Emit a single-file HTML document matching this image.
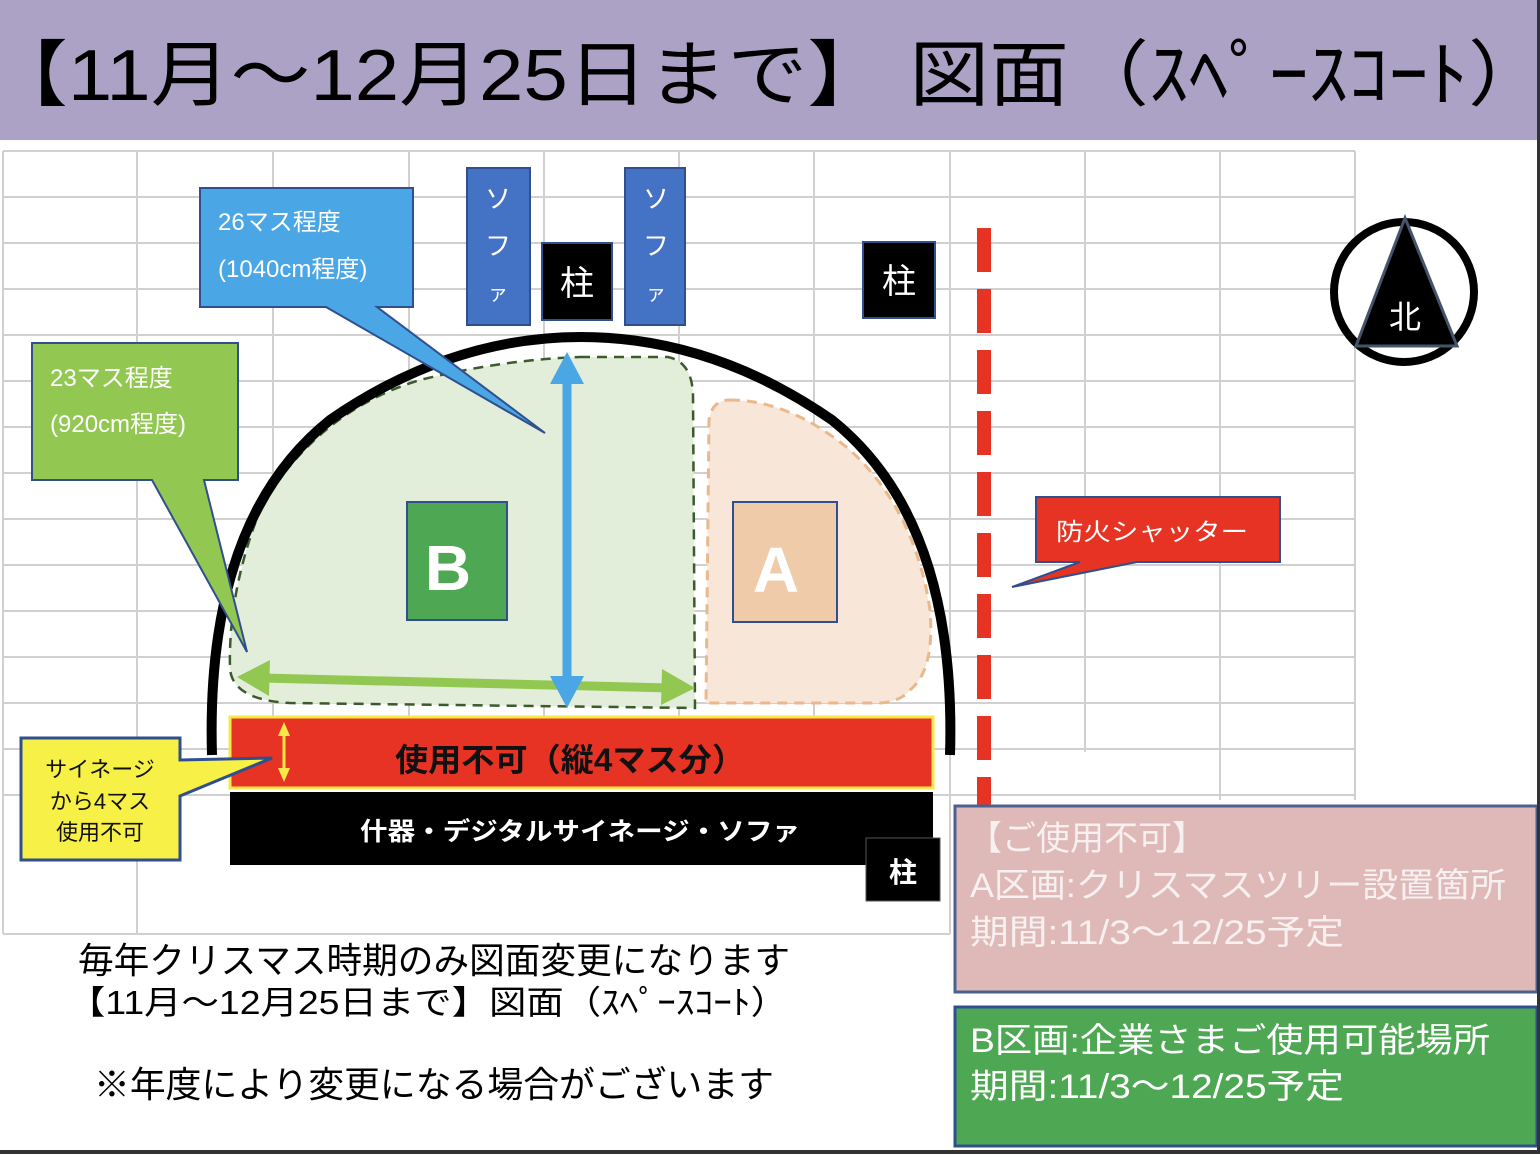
<!DOCTYPE html>
<html><head><meta charset="utf-8"><style>
html,body{margin:0;padding:0;background:#fff;}
svg text{font-family:"Liberation Sans","Noto Sans CJK JP",sans-serif;}
</style></head><body>
<svg width="1540" height="1154" viewBox="0 0 1540 1154" xmlns="http://www.w3.org/2000/svg">
<rect width="1540" height="1154" fill="#fff"/>
<!-- header -->
<rect x="0" y="0" width="1540" height="140" fill="#aba2c6"/>
<text x="-12" y="100" font-size="72" fill="#000" textLength="1560" lengthAdjust="spacingAndGlyphs">【11月～12月25日まで】 図面（ｽﾍﾟｰｽｺｰﾄ）</text>
<!-- grid -->
<g stroke="#d0d0d0" stroke-width="2">
<line x1="3" y1="151" x2="1355" y2="151"/>
<line x1="3" y1="197" x2="1355" y2="197"/>
<line x1="3" y1="243" x2="1355" y2="243"/>
<line x1="3" y1="289" x2="1355" y2="289"/>
<line x1="3" y1="335" x2="1355" y2="335"/>
<line x1="3" y1="381" x2="1355" y2="381"/>
<line x1="3" y1="427" x2="1355" y2="427"/>
<line x1="3" y1="473" x2="1355" y2="473"/>
<line x1="3" y1="519" x2="1355" y2="519"/>
<line x1="3" y1="565" x2="1355" y2="565"/>
<line x1="3" y1="611" x2="1355" y2="611"/>
<line x1="3" y1="657" x2="1355" y2="657"/>
<line x1="3" y1="703" x2="1355" y2="703"/>
<line x1="3" y1="749" x2="1355" y2="749"/>
<line x1="3" y1="795" x2="1355" y2="795"/>
<line x1="3" y1="934" x2="950" y2="934"/>
<line x1="3" y1="151" x2="3" y2="934"/>
<line x1="137" y1="151" x2="137" y2="934"/>
<line x1="273" y1="151" x2="273" y2="720"/>
<line x1="409" y1="151" x2="409" y2="720"/>
<line x1="544" y1="151" x2="544" y2="720"/>
<line x1="679" y1="151" x2="679" y2="720"/>
<line x1="814" y1="151" x2="814" y2="720"/>
<line x1="950" y1="151" x2="950" y2="934"/>
<line x1="1085" y1="151" x2="1085" y2="752"/>
<line x1="1220" y1="151" x2="1220" y2="800"/>
<line x1="1355" y1="151" x2="1355" y2="800"/>
</g>
<!-- green region -->
<path d="M 580 357 L 668 357 Q 692 362 693 395 L 695 708 L 290 703 Q 232 700 230 668 Q 228 590 262 505 Q 320 410 420 380 Q 500 360 580 357 Z" fill="#e2eed9" stroke="#3b5a2d" stroke-width="2.5" stroke-dasharray="10,7"/>
<!-- A region -->
<path d="M 730 400 Q 790 400 850 450 Q 915 510 930 610 Q 935 670 910 690 Q 900 702 880 703 L 706 703 L 709 420 Q 712 400 730 400 Z" fill="#f8e6d9" stroke="#e9b98c" stroke-width="3" stroke-dasharray="10,7"/>
<!-- arch -->
<path d="M 212 755 Q 205 520 330 420 Q 450 337 581 337 Q 712 337 832 420 Q 957 520 950 755" fill="none" stroke="#000" stroke-width="10"/>
<!-- red dashed line -->
<line x1="984" y1="228" x2="984" y2="805" stroke="#e63323" stroke-width="14" stroke-dasharray="44,17"/>
<!-- sofas and pillars -->
<rect x="467" y="168" width="63" height="157" fill="#4472c4" stroke="#2f4f8e" stroke-width="2"/>
<text x="498" y="208" font-size="26" fill="#fff" text-anchor="middle">ソ</text>
<text x="498" y="255" font-size="26" fill="#fff" text-anchor="middle">フ</text>
<text x="498" y="300" font-size="20" fill="#fff" text-anchor="middle">ァ</text>
<rect x="625" y="168" width="60" height="157" fill="#4472c4" stroke="#2f4f8e" stroke-width="2"/>
<text x="656" y="208" font-size="26" fill="#fff" text-anchor="middle">ソ</text>
<text x="656" y="255" font-size="26" fill="#fff" text-anchor="middle">フ</text>
<text x="656" y="300" font-size="20" fill="#fff" text-anchor="middle">ァ</text>
<rect x="542" y="243" width="70" height="77" fill="#000" stroke="#2f4f8e" stroke-width="2"/>
<text x="577" y="295" font-size="34" fill="#fff" text-anchor="middle">柱</text>
<rect x="863" y="242" width="72" height="76" fill="#000" stroke="#2f4f8e" stroke-width="2"/>
<text x="899" y="293" font-size="34" fill="#fff" text-anchor="middle">柱</text>
<!-- compass -->
<circle cx="1404" cy="292" r="70" fill="#fff" stroke="#000" stroke-width="8"/>
<polygon points="1405,218 1356,346 1457,346" fill="#000" stroke="#44546a" stroke-width="3"/>
<text x="1405" y="328" font-size="32" fill="#fff" text-anchor="middle">北</text>
<!-- B and A boxes -->
<rect x="407" y="502" width="100" height="118" fill="#4ea752" stroke="#2f4f8e" stroke-width="2"/>
<text x="448" y="590" font-size="64" font-weight="bold" fill="#fff" text-anchor="middle">B</text>
<rect x="733" y="502" width="104" height="120" fill="#f0cbaa" stroke="#2f4f8e" stroke-width="2"/>
<text x="776" y="592" font-size="64" font-weight="bold" fill="#fff" text-anchor="middle">A</text>
<!-- green arrow -->
<line x1="262" y1="678" x2="670" y2="688" stroke="#92c852" stroke-width="9"/>
<polygon points="237,677 270,660 269,696" fill="#92c852"/>
<polygon points="695,688 662,669 661,705" fill="#92c852"/>
<!-- blue arrow -->
<line x1="567" y1="380" x2="567" y2="680" stroke="#4aa6e4" stroke-width="9"/>
<polygon points="567,352 550,384 584,384" fill="#4aa6e4"/>
<polygon points="567,708 550,676 584,676" fill="#4aa6e4"/>
<!-- blue callout -->
<path d="M 200 188 L 413 188 L 413 307 L 377 307 L 545 433 L 326 307 L 200 307 Z" fill="#4aa6e4" stroke="#2f4f8e" stroke-width="2"/>
<text x="218" y="230" font-size="24" fill="#fff">26マス程度</text>
<text x="218" y="277" font-size="24" fill="#fff">(1040cm程度)</text>
<!-- green callout -->
<path d="M 32 343 L 238 343 L 238 480 L 204 480 L 247 652 L 152 480 L 32 480 Z" fill="#92c852" stroke="#2f4f8e" stroke-width="2"/>
<text x="50" y="386" font-size="24" fill="#fff">23マス程度</text>
<text x="50" y="432" font-size="24" fill="#fff">(920cm程度)</text>
<!-- fire shutter callout -->
<path d="M 1036 497 L 1280 497 L 1280 562 L 1137 562 L 1012 587 L 1080 562 L 1036 562 Z" fill="#e63323" stroke="#2f4f8e" stroke-width="2"/>
<text x="1056" y="540" font-size="24" fill="#fff" textLength="192" lengthAdjust="spacingAndGlyphs">防火シャッター</text>
<!-- red bar -->
<rect x="230" y="717" width="703" height="71" fill="#e63323" stroke="#f7e84a" stroke-width="3"/>
<text x="570" y="771" font-size="32" font-weight="bold" fill="#111" text-anchor="middle" textLength="350" lengthAdjust="spacingAndGlyphs">使用不可（縦4マス分）</text>
<line x1="284" y1="730" x2="284" y2="775" stroke="#f7e84a" stroke-width="3"/>
<polygon points="284,722 278,736 290,736" fill="#f7e84a"/>
<polygon points="284,782 278,768 290,768" fill="#f7e84a"/>
<!-- black bar -->
<rect x="230" y="792" width="703" height="73" fill="#000"/>
<text x="580" y="840" font-size="25" font-weight="bold" fill="#fff" text-anchor="middle" textLength="440" lengthAdjust="spacingAndGlyphs">什器・デジタルサイネージ・ソファ</text>
<rect x="866" y="838" width="74" height="63" fill="#000" stroke="#555" stroke-width="1"/>
<text x="903" y="882" font-size="28" font-weight="bold" fill="#fff" text-anchor="middle">柱</text>
<!-- yellow callout -->
<path d="M 21 738 L 180 738 L 180 760 L 272 758 L 180 796 L 180 860 L 21 860 Z" fill="#f7f046" stroke="#2f4f8e" stroke-width="3"/>
<text x="100" y="777" font-size="22" fill="#111" text-anchor="middle">サイネージ</text>
<text x="100" y="809" font-size="22" fill="#111" text-anchor="middle">から4マス</text>
<text x="100" y="840" font-size="22" fill="#111" text-anchor="middle">使用不可</text>
<!-- bottom text -->
<text x="78" y="973" font-size="36" fill="#000" textLength="712" lengthAdjust="spacingAndGlyphs">毎年クリスマス時期のみ図面変更になります</text>
<text x="68" y="1014" font-size="33" fill="#000" textLength="720" lengthAdjust="spacingAndGlyphs">【11月～12月25日まで】図面（ｽﾍﾟｰｽｺｰﾄ）</text>
<text x="94" y="1097" font-size="36" fill="#000" textLength="680" lengthAdjust="spacingAndGlyphs">※年度により変更になる場合がございます</text>
<!-- info boxes -->
<rect x="955" y="806" width="582" height="186" fill="#dfb9b7" stroke="#4a6190" stroke-width="3"/>
<text x="968" y="850" font-size="34" fill="#f7f0f0">【ご使用不可】</text>
<text x="970" y="897" font-size="34" fill="#f7f0f0" textLength="536" lengthAdjust="spacingAndGlyphs">A区画:クリスマスツリー設置箇所</text>
<text x="970" y="944" font-size="34" fill="#f7f0f0" textLength="374" lengthAdjust="spacingAndGlyphs">期間:11/3～12/25予定</text>
<rect x="955" y="1007" width="582" height="139" fill="#4ea752" stroke="#2f4f8e" stroke-width="3"/>
<text x="970" y="1052" font-size="34" fill="#fff" textLength="520" lengthAdjust="spacingAndGlyphs">B区画:企業さまご使用可能場所</text>
<text x="970" y="1098" font-size="34" fill="#fff" textLength="374" lengthAdjust="spacingAndGlyphs">期間:11/3～12/25予定</text>
<rect x="1537" y="0" width="3" height="1154" fill="#333"/>
<rect x="0" y="1150" width="1540" height="4" fill="#333"/>
</svg>
</body></html>
